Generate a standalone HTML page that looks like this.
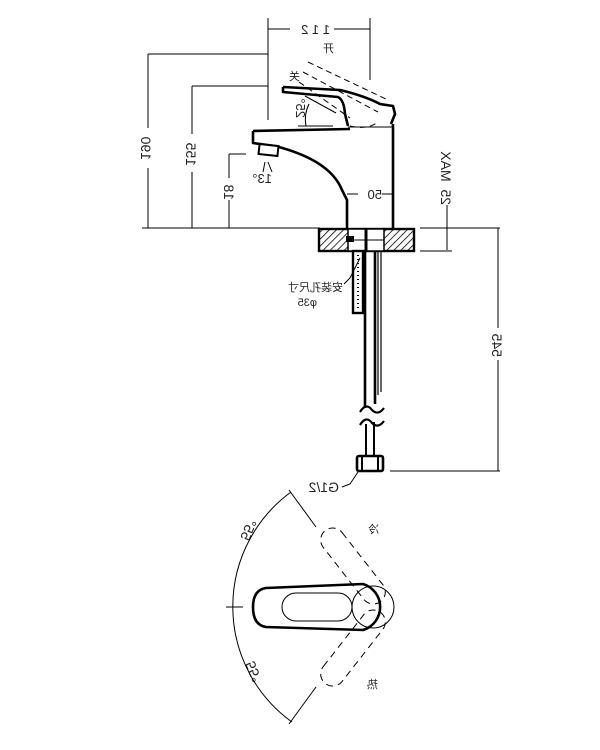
<!DOCTYPE html>
<html><head><meta charset="utf-8"><style>
html,body{margin:0;padding:0;background:#fff;}
svg{display:block}
text{font-family:"Liberation Sans","Noto Sans CJK SC",sans-serif;fill:#222;white-space:pre;}
</style></head><body>
<svg width="600" height="750" viewBox="0 0 600 750" xmlns="http://www.w3.org/2000/svg">
<defs>
<pattern id="h" width="5" height="5" patternUnits="userSpaceOnUse" patternTransform="rotate(45)">
<rect width="5" height="5" fill="#fff"/><line x1="0" y1="0" x2="0" y2="5" stroke="#000" stroke-width="1.6"/>
</pattern>
</defs>
<g fill="none" stroke="#000" stroke-width="1">
<line x1="268" y1="18" x2="268" y2="120"/>
<line x1="370" y1="18" x2="370" y2="80"/>
<line x1="268" y1="29" x2="290" y2="29"/><line x1="334" y1="29" x2="370" y2="29"/>
<line x1="148" y1="54" x2="268" y2="54"/>
<line x1="148" y1="54" x2="148" y2="128"/><line x1="148" y1="168" x2="148" y2="228"/>
<line x1="192" y1="86" x2="268" y2="86"/>
<line x1="192" y1="86" x2="192" y2="134"/><line x1="192" y1="172" x2="192" y2="228"/>
<line x1="229" y1="154" x2="246" y2="154"/>
<line x1="229" y1="154" x2="229" y2="178"/><line x1="229" y1="200" x2="229" y2="228"/>
<line x1="142" y1="228" x2="320" y2="228"/>
<line x1="347" y1="194" x2="358" y2="194"/><line x1="382" y1="194" x2="393" y2="194"/>
<line x1="420" y1="228" x2="500" y2="228"/>
<line x1="420" y1="251" x2="452" y2="251"/>
<line x1="447" y1="205" x2="447" y2="250"/>
<line x1="498" y1="228" x2="498" y2="328"/><line x1="498" y1="360" x2="498" y2="471"/>
<line x1="390" y1="471" x2="500" y2="471"/>
<line x1="298" y1="126" x2="333" y2="126"/>
<line x1="305" y1="96" x2="336" y2="113"/>
<path d="M306,126 A35,35 0 0 1 309,104"/>
<line x1="265" y1="162" x2="263" y2="172"/>
<line x1="268" y1="162" x2="272" y2="172"/>
</g>
<g fill="none" stroke="#000" stroke-width="1" stroke-dasharray="6,4">
<line x1="308" y1="62" x2="388" y2="100"/>
<line x1="303" y1="72" x2="378" y2="112"/>
<line x1="299" y1="82" x2="350" y2="118"/>
<path d="M350,126 Q368,130 378,122"/>
</g>
<g fill="none" stroke="#000" stroke-width="2.6" stroke-linejoin="round">
<path d="M283,87 L340,90 Q365,96 380,104 L393,106 L395,114 L391,124"/>
<path d="M283,87 L283,92 L338,97 Q344,100 345,114 L348,126"/>
<path d="M253,131 L350,129"/>
<path d="M253,131 L253,143 L275,146 Q330,160 342,190 L347,200 L347,228"/>
<line x1="393" y1="124" x2="393" y2="228"/>
<line x1="348" y1="127" x2="392" y2="127" stroke-width="1"/>
</g>
<rect x="259" y="145" width="19" height="10" fill="#fff" stroke="#000" stroke-width="2" transform="rotate(6 268 150)"/>
<rect x="319" y="229" width="95" height="22" fill="url(#h)" stroke="#000" stroke-width="2.4"/>
<rect x="348" y="229" width="36" height="22" fill="#fff" stroke="#000" stroke-width="1.5"/>
<rect x="346" y="236" width="8" height="6" fill="#000"/>
<line x1="366" y1="229" x2="366" y2="251" stroke="#000" stroke-width="3"/>
<line x1="348" y1="240" x2="384" y2="240" stroke="#000" stroke-width="1"/>
<rect x="353" y="251" width="10" height="62" fill="#fff" stroke="#000" stroke-width="2.4"/>
<line x1="358" y1="255" x2="358" y2="310" stroke="#000" stroke-width="2" stroke-dasharray="1,3"/>
<line x1="365" y1="251" x2="365" y2="408" stroke="#000" stroke-width="2.6"/>
<line x1="375" y1="251" x2="375" y2="404" stroke="#000" stroke-width="2.6"/>
<line x1="378" y1="251" x2="378" y2="395" stroke="#000" stroke-width="1.2"/>
<line x1="381" y1="251" x2="381" y2="392" stroke="#000" stroke-width="1.2"/>
<path d="M360,412 Q366,402 372,410 Q378,416 384,408" fill="none" stroke="#000" stroke-width="2.2"/>
<path d="M360,425 Q366,415 372,423 Q378,429 384,421" fill="none" stroke="#000" stroke-width="2.2"/>
<line x1="366" y1="424" x2="366" y2="455" stroke="#000" stroke-width="2"/>
<line x1="374" y1="422" x2="374" y2="455" stroke="#000" stroke-width="2"/>
<rect x="357" y="456" width="26" height="15" rx="2" fill="#fff" stroke="#000" stroke-width="2.6"/>
<line x1="362" y1="457" x2="362" y2="470" stroke="#000" stroke-width="2"/>
<line x1="378" y1="457" x2="378" y2="470" stroke="#000" stroke-width="2"/>
<polyline points="344,284 350,278 360,258" fill="none" stroke="#000" stroke-width="1"/>
<polyline points="342,487 350,484 358,472" fill="none" stroke="#000" stroke-width="1"/>
<g font-size="13">
<text transform="translate(330,34) scale(-1,1)">1 1 2</text>
<text transform="translate(334,52) scale(-1,1)" font-size="11">开</text>
<text transform="translate(300,80) scale(-1,1)" font-size="11">关</text>
<text transform="translate(296,118) scale(-1,1) rotate(-90)" font-size="13">25°</text>
<text transform="translate(272,183) scale(-1,1)">13°</text>
<text transform="translate(382,199) scale(-1,1)">50</text>
<text transform="translate(141,160) scale(-1,1) rotate(-90)" font-size="14">190</text>
<text transform="translate(186,166) scale(-1,1) rotate(-90)" font-size="14">155</text>
<text transform="translate(224,200) scale(-1,1) rotate(-90)" font-size="14">18</text>
<text transform="translate(441,205) scale(-1,1) rotate(-90)" font-size="14">25  MAX</text>
<text transform="translate(492,357) scale(-1,1) rotate(-90)" font-size="14">545</text>
<text transform="translate(343,291) scale(-1,1)" font-size="11">安装孔尺寸</text>
<text transform="translate(317,306) scale(-1,1)" font-size="11">φ35</text>
<text transform="translate(339,492) scale(-1,1)" font-size="14">G1/2</text>
<text transform="translate(379,533) scale(-1,1)" font-size="11">冷</text>
<text transform="translate(378,688) scale(-1,1)" font-size="11">热</text>
<text transform="translate(240,538) scale(-1,1) rotate(-112)" font-size="14">55°</text>
<text transform="translate(254,660) scale(-1,1) rotate(112)" font-size="14">55°</text>
</g>
<g fill="none" stroke="#000" stroke-width="1">
<path d="M291,492 A142,142 0 0 0 292,722"/>
<line x1="289" y1="490" x2="316" y2="527"/>
<line x1="289" y1="724" x2="316" y2="687"/>
<line x1="226" y1="607" x2="243" y2="607"/>
<g stroke-dasharray="7,5">
<rect x="308" y="554" width="90" height="24" rx="12" transform="rotate(52 353 566)"/>
<rect x="308" y="636" width="90" height="24" rx="12" transform="rotate(-52 353 648)"/>
</g>
<rect x="282" y="593" width="70" height="28" rx="14"/>
<circle cx="373" cy="607" r="21"/>
</g>
<path d="M266,588 L363,584 A24,24 0 0 1 363,630 L266,627 Q253,625 253,607 Q253,590 266,588 Z" fill="none" stroke="#000" stroke-width="2.6"/>
</svg>
</body></html>
